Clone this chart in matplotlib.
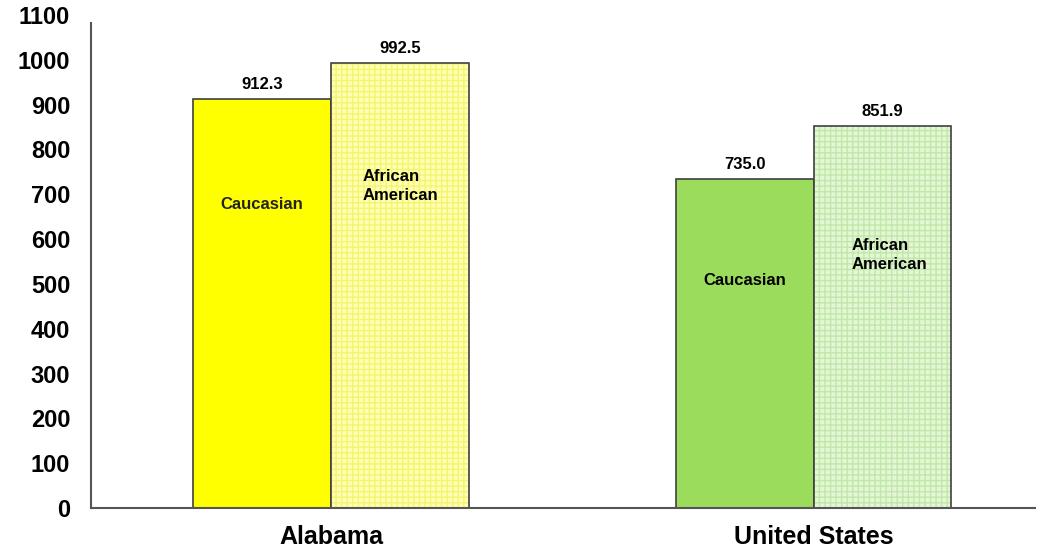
import matplotlib.pyplot as plt
import numpy as np

plt.rcParams['font.family'] = ['Liberation Sans', 'DejaVu Sans']
plt.rcParams['font.weight'] = 'bold'

regions = ['Alabama', 'United States']
caucasian = [912.3, 735.0]
african_american = [992.5, 851.9]

solid_colors = ['#FFFF00', '#9CDC5C']
pale_colors = ['#FFFFB4', '#E4F6D6']
hatch_colors = ['#F4F470', '#C0E8A8']

fig = plt.figure(figsize=(10.4, 5.51), dpi=100)
ax = fig.add_axes([0.0875, 0.078, 0.9075, 0.895])

x = np.arange(len(regions))
w = 0.285

for i in range(len(regions)):
    # caucasian bar
    ax.bar(x[i] - w / 2, caucasian[i], w, color=solid_colors[i],
           edgecolor='#404040', linewidth=1.2)
    # african american bar: grid hatch, then outline
    ax.bar(x[i] + w / 2, african_american[i], w, color=pale_colors[i],
           edgecolor=hatch_colors[i], hatch='+++', linewidth=0)
    ax.bar(x[i] + w / 2, african_american[i], w, fill=False,
           edgecolor='#404040', linewidth=1.2)

    ax.text(x[i] - w / 2, caucasian[i] + 15, f'{caucasian[i]:.1f}',
            ha='center', va='bottom', fontsize=12, fontweight='bold')
    ax.text(x[i] + w / 2, african_american[i] + 15, f'{african_american[i]:.1f}',
            ha='center', va='bottom', fontsize=12, fontweight='bold')

# labels inside the bars
ax.text(x[0] - w / 2, 678, 'Caucasian', ha='center', va='center',
        fontsize=12, fontweight='bold', color='#222222')
ax.text(x[1] - w / 2, 507, 'Caucasian', ha='center', va='center',
        fontsize=12, fontweight='bold')
ax.text(x[0] + 0.066, 719, 'African\nAmerican', ha='left', va='center',
        fontsize=12, fontweight='bold', linespacing=1.35)
ax.text(x[1] + 0.079, 565, 'African\nAmerican', ha='left', va='center',
        fontsize=12, fontweight='bold', linespacing=1.35)

ax.set_xlim(-0.497, 1.458)
ax.set_ylim(0, 1100)
ax.set_yticks(np.arange(0, 1101, 100))
ax.set_xticks(x)
ax.set_xticklabels(regions, fontsize=18, fontweight='bold')
ax.tick_params(axis='y', labelsize=17, length=0, pad=15)
ax.tick_params(axis='x', length=0, pad=12)
for lab in ax.get_yticklabels():
    lab.set_fontweight('bold')

for s in ['top', 'right']:
    ax.spines[s].set_visible(False)
for s in ['left', 'bottom']:
    ax.spines[s].set_color('#555555')
    ax.spines[s].set_linewidth(1.5)
ax.spines['left'].set_bounds(0, 1082)

fig.savefig('out.png', dpi=100)
